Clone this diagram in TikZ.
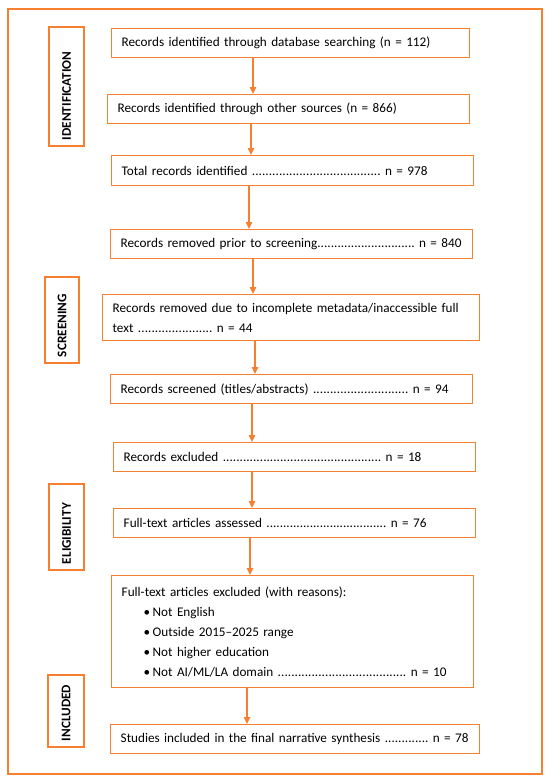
\documentclass[tikz,border=0pt]{standalone}
\usepackage{fontspec}
\setmainfont{Carlito}
\usetikzlibrary{arrows.meta}
\definecolor{prisma}{HTML}{F58030}
\newcommand\leaderdots{\xleaders\hbox{.}\hfill}
\begin{document}
\begin{tikzpicture}[x=1bp,y=-1bp,
  box/.style={draw=prisma, line width=1.4bp, anchor=north west, inner xsep=10bp, inner ysep=0pt, align=left, font=\fontsize{13.2bp}{20bp}\selectfont},
  stage/.style={draw=prisma, line width=1.4bp, rotate=90, inner xsep=6bp, inner ysep=0pt, align=left, font=\fontsize{13.2bp}{16bp}\selectfont\bfseries},
  arr/.style={draw=prisma, line width=1.3bp, -{Triangle[length=7bp,width=6.5bp]}}]
\useasboundingbox (0,0) rectangle (550,782);
\draw[prisma, line width=2.7bp] (8,9) rectangle (542,774);
% stage labels
\node[stage, minimum height=35bp, text width=107bp] (s1) at (66.5,86.5) {IDENTIFICATION};
\node[stage, minimum height=34bp, text width=74bp] (s2) at (62,320) {SCREENING};
\node[stage, minimum height=35bp, text width=74bp] (s3) at (66.5,527) {ELIGIBILITY};
\node[stage, minimum height=36bp, text width=60bp] (s4) at (66,711) {INCLUDED};
% boxes
\node[box, text width=338bp, minimum height=29bp] (b1) at (111,28) {Records identified through database searching (n = 112)};
\node[box, text width=342bp, minimum height=29bp] (b2) at (107,94) {Records identified through other sources (n = 866)};
\node[box, text width=342bp, minimum height=30bp] (b3) at (111,155) {\makebox[306bp][l]{Total records identified \leaderdots{} n = 978}};
\node[box, text width=342bp, minimum height=29bp] (b4) at (110,229) {\makebox[341bp][l]{Records removed prior to screening\leaderdots{} n = 840}};
\node[box, text width=357bp, minimum height=46bp] (b5) at (102,294) {\makebox[357bp][s]{Records removed due to incomplete metadata/inaccessible full}\\\makebox[140bp][l]{text \leaderdots{} n = 44}};
\node[box, text width=342bp, minimum height=29bp] (b6) at (110,374) {\makebox[328bp][l]{Records screened (titles/abstracts) \leaderdots{} n = 94}};
\node[box, text width=342bp, minimum height=29bp] (b7) at (113,442) {\makebox[298bp][l]{Records excluded \leaderdots{} n = 18}};
\node[box, text width=342bp, minimum height=29bp] (b8) at (113,508) {\makebox[303bp][l]{Full-text articles assessed \leaderdots{} n = 76}};
\node[box, text width=342bp, minimum height=112bp] (b9) at (111,575) {Full-text articles excluded (with reasons):\\
\hspace*{22bp}\makebox[9bp][l]{\textbullet}Not English\\
\hspace*{22bp}\makebox[9bp][l]{\textbullet}Outside 2015–2025 range\\
\hspace*{22bp}\makebox[9bp][l]{\textbullet}Not higher education\\
\hspace*{22bp}\makebox[9bp][l]{\textbullet}\makebox[294bp][l]{Not AI/ML/LA domain \leaderdots{} n = 10}};
\node[box, text width=349bp, minimum height=29bp] (b10) at (110,724) {\makebox[348bp][l]{Studies included in the final narrative synthesis \leaderdots{} n = 78}};
% arrow columns
\coordinate (c1) at (253,0);
\coordinate (c2) at (251,0);
\coordinate (c3) at (249,0);
\coordinate (c4) at (253,0);
\coordinate (c5) at (255,0);
\coordinate (c6) at (252,0);
\coordinate (c7) at (252,0);
\coordinate (c8) at (250,0);
\coordinate (c9) at (247,0);
\draw[arr] (b1.south -| c1) -- (b2.north -| c1);
\draw[arr] (b2.south -| c2) -- (b3.north -| c2);
\draw[arr] (b3.south -| c3) -- (b4.north -| c3);
\draw[arr] (b4.south -| c4) -- (b5.north -| c4);
\draw[arr] (b5.south -| c5) -- (b6.north -| c5);
\draw[arr] (b6.south -| c6) -- (b7.north -| c6);
\draw[arr] (b7.south -| c7) -- (b8.north -| c7);
\draw[arr] (b8.south -| c8) -- (b9.north -| c8);
\draw[arr] (b9.south -| c9) -- (b10.north -| c9);
\end{tikzpicture}
\end{document}
